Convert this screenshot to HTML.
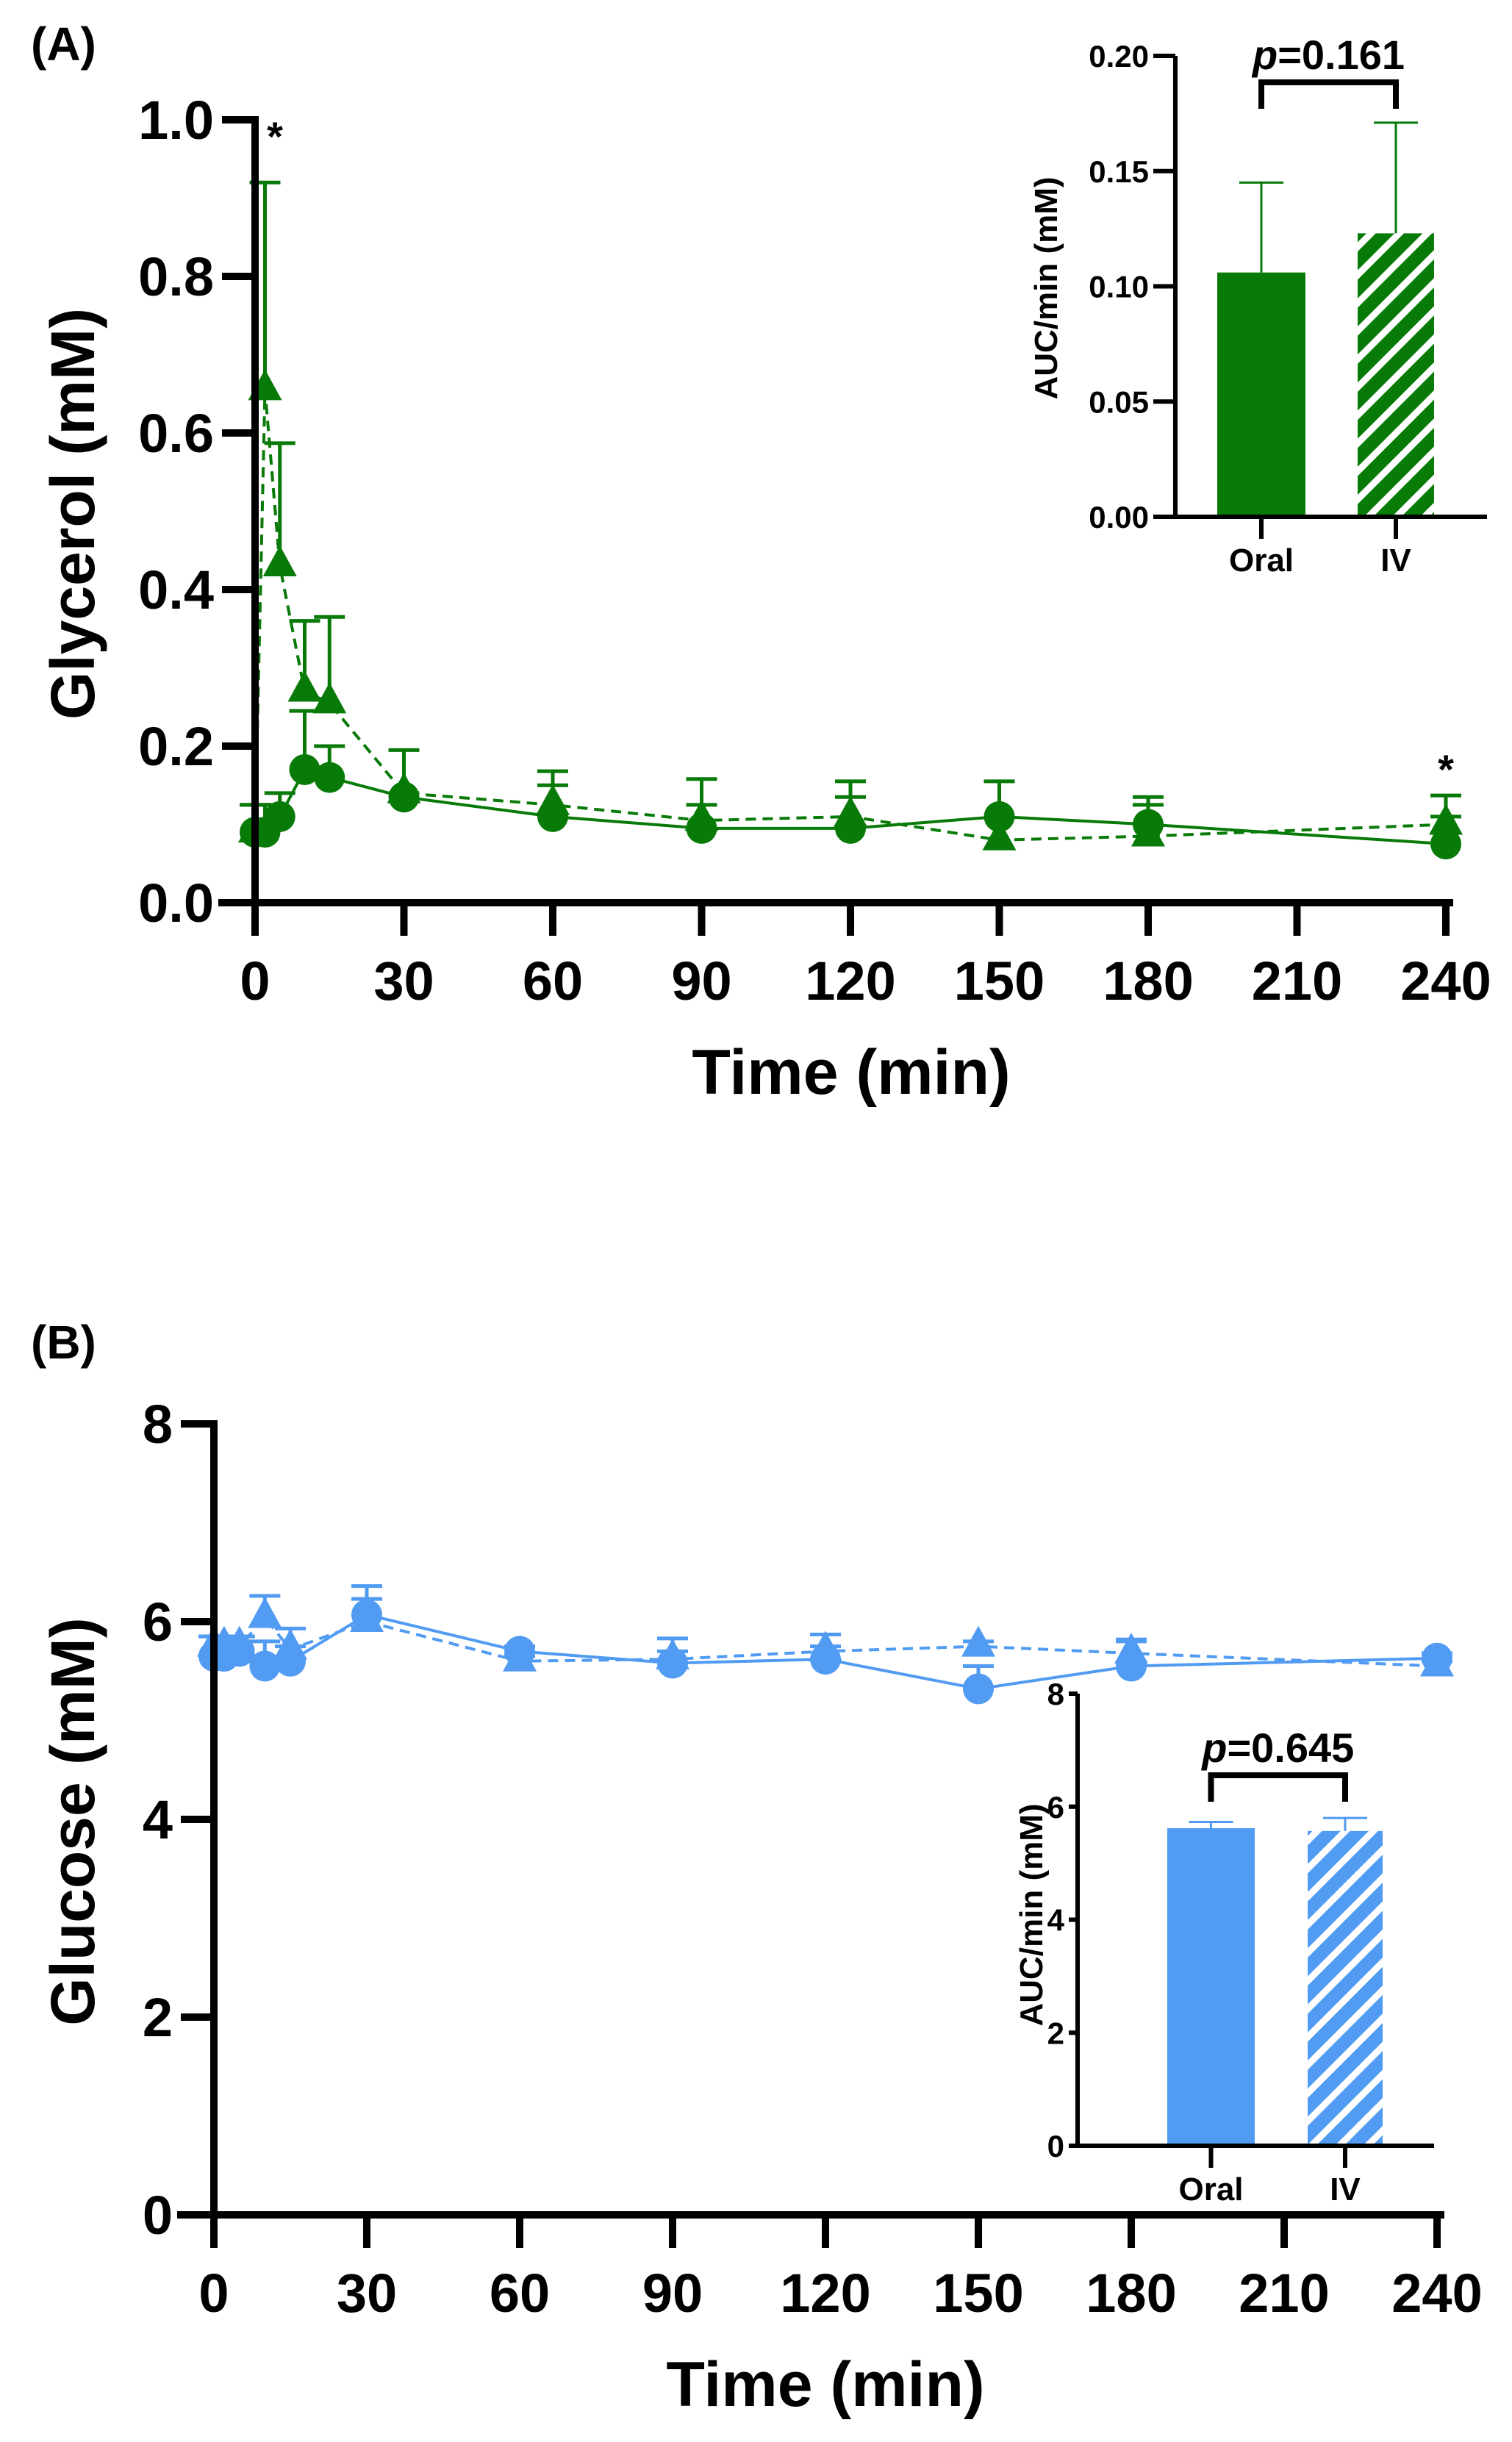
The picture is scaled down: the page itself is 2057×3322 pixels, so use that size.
<!DOCTYPE html>
<html><head><meta charset="utf-8"><style>
html,body{margin:0;padding:0;background:#fff;}
svg{display:block;font-family:"Liberation Sans",Arial,sans-serif;font-weight:bold;}
</style></head><body>
<svg id="fig" width="2057" height="3322" viewBox="0 0 2057 3322" xmlns="http://www.w3.org/2000/svg">
<defs>
<pattern id="hatchG" patternUnits="userSpaceOnUse" width="27" height="27" patternTransform="rotate(45)">
<rect width="27" height="27" fill="#087a08"/><rect width="9" height="27" fill="#fff"/></pattern>
<pattern id="hatchB" patternUnits="userSpaceOnUse" width="27" height="27" patternTransform="rotate(45)">
<rect width="27" height="27" fill="#519bf2"/><rect width="9" height="27" fill="#fff"/></pattern>
</defs>
<g id="root"></g>
</svg>
<script>
// ---------- data ----------
const times = [0,2,5,10,15,30,60,90,120,150,180,240];
const xTicks = [0,30,60,90,120,150,180,210,240];
const glyOral = [0.09,0.09,0.11,0.17,0.16,0.135,0.11,0.095,0.095,0.11,0.10,0.075];
const glyOralErr = [0.125,0.125,0.14,0.245,0.20,0.14,0.15,0.125,0.135,0.155,0.125,0.11];
const glyIV = [0.09,0.655,0.43,0.27,0.255,0.14,0.125,0.105,0.11,0.08,0.085,0.10];
const glyIVErr = [0.125,0.92,0.587,0.36,0.365,0.195,0.168,0.158,0.155,0.08,0.135,0.137];
const glyTicks = ["0.0","0.2","0.4","0.6","0.8","1.0"];
const gluOral = [5.65,5.65,5.7,5.55,5.6,6.07,5.7,5.58,5.62,5.32,5.55,5.63];
const gluOralErr = [5.85,5.8,5.85,5.8,5.75,6.36,5.75,5.83,5.87,5.55,5.82,5.68];
const gluIV = [5.75,5.75,5.75,6.04,5.72,6.0,5.6,5.62,5.7,5.75,5.68,5.55];
const gluIVErr = [5.85,5.85,5.85,6.26,5.93,6.23,5.65,5.7,5.75,5.8,5.8,5.6];
const gluTicks = ["0","2","4","6","8"];
const barCats = ["Oral","IV"];
const glyAuc = [0.106,0.123];
const glyAucErr = [0.145,0.171];
const glyAucTicks = ["0.00","0.05","0.10","0.15","0.20"];
const gluAuc = [5.62,5.57];
const gluAucErr = [5.73,5.80];
const gluAucTicks = ["0","2","4","6","8"];

const NS="http://www.w3.org/2000/svg";
const root=document.getElementById('root');
function el(tag,attrs,parent,text){const e=document.createElementNS(NS,tag);for(const k in attrs)e.setAttribute(k,attrs[k]);if(text!==undefined)e.textContent=text;(parent||root).appendChild(e);return e;}

function linePanel(o){
  const g=el('g',{});
  
  
  const X=t=>o.x0+(o.x1-o.x0)*t/240;
  const Y=v=>o.y0-(o.y0-o.y1)*v/o.vmax;
  const ptsO=times.map((t,i)=>X(t)+','+Y(o.oral[i])).join(' ');
  const ptsI=times.map((t,i)=>X(t)+','+Y(o.iv[i])).join(' ');
  const lI=el('polyline',{points:ptsI,fill:'none',stroke:o.color,'stroke-width':4,'stroke-dasharray':'14,9'},g);
  
  
  const lO=el('polyline',{points:ptsO,fill:'none',stroke:o.color,'stroke-width':4},g);
  
  
  times.forEach((t,i)=>{
    [[o.oral[i],o.oralErr[i]],[o.iv[i],o.ivErr[i]]].forEach(([v,e])=>{
      if(e<=v) return;
      const eb=el('path',{d:`M${X(t)},${Y(v)}V${Y(e)}M${X(t)-21},${Y(e)}H${X(t)+21}`,stroke:o.color,'stroke-width':5,fill:'none'},g);
      
      
    });
  });
  times.forEach((t,i)=>{
    const c=el('circle',{cx:X(t),cy:Y(o.oral[i]),r:21,fill:o.color},g);
    
    
    const x=X(t),y=Y(o.iv[i]);
    const tr=el('polygon',{points:`${x},${y-28} ${x-23},${y+14} ${x+23},${y+14}`,fill:o.color},g);
    
    
  });
  const ax=el('path',{d:`M${o.x0},${o.y1}V${o.y0}M${o.x0-45},${o.y0}H${o.x1+5}`,stroke:'#000','stroke-width':10,fill:'none','stroke-linecap':'square'},g);
  
  
  o.yTicks.forEach((lab,i)=>{
    const v=o.vmax*i/(o.yTicks.length-1), y=Y(v);
    el('line',{x1:o.x0-45,x2:o.x0,y1:y,y2:y,stroke:'#000','stroke-width':10},g);
    const t=el('text',{x:o.x0-56,y:y+26,'text-anchor':'end','font-size':74},g,lab);
    
    
  });
  xTicks.forEach(tv=>{
    const x=X(tv);
    el('line',{x1:x,x2:x,y1:o.y0,y2:o.y0+45,stroke:'#000','stroke-width':10},g);
    const t=el('text',{x:x,y:o.y0+132,'text-anchor':'middle','font-size':74},g,String(tv));
    
    
  });
  const xt=el('text',{x:o.xtx,y:o.y0+260,'text-anchor':'middle','font-size':86},g,'Time (min)');
  
  
  const yt=el('text',{x:0,y:0,'text-anchor':'middle','font-size':84,transform:`translate(128,${o.ytY}) rotate(-90)`},g,o.ytitle);
  
  
  const pl=el('text',{x:42,y:o.labY,'font-size':64},g,o.label);
  
  
  return {X,Y,g};
}

function inset(o){
  const g=el('g',{});
  
  
  const Y=v=>o.y0-(o.y0-o.y1)*v/o.vmax;
  const fills=[o.color,o.hatch];
  barCats.forEach((c,i)=>{
    const [bx0,bx1]=o.bars[i];
    const cx=(bx0+bx1)/2;
    const e=el('path',{d:`M${cx},${Y(o.vals[i])}V${Y(o.errs[i])}M${cx-30},${Y(o.errs[i])}H${cx+30}`,stroke:o.color,'stroke-width':3,fill:'none'},g);
    
    
    const r=el('rect',{x:bx0,y:Y(o.vals[i]),width:bx1-bx0,height:o.y0-Y(o.vals[i]),fill:fills[i]},g);
    
    
    el('line',{x1:cx,x2:cx,y1:o.y0,y2:o.y0+30,stroke:'#000','stroke-width':6},g);
    const t=el('text',{x:cx,y:o.y0+74,'text-anchor':'middle','font-size':44},g,c);
    
    
  });
  const ax=el('path',{d:`M${o.x0},${o.y1}V${o.y0}H${o.x1}`,stroke:'#000','stroke-width':6,fill:'none'},g);
  
  
  o.ticks.forEach((lab,i)=>{
    const y=Y(o.vmax*i/(o.ticks.length-1));
    el('line',{x1:o.x0-o.tl,x2:o.x0,y1:y,y2:y,stroke:'#000','stroke-width':6},g);
    const t=el('text',{x:o.x0-o.tl-6,y:y+15,'text-anchor':'end','font-size':42},g,lab);
    
    
  });
  const yt=el('text',{x:0,y:0,'text-anchor':'middle','font-size':44,transform:`translate(${o.ytX},${o.ytY}) rotate(-90)`},g,'AUC/min (mM)');
  
  
  const c0=(o.bars[0][0]+o.bars[0][1])/2, c1=(o.bars[1][0]+o.bars[1][1])/2;
  const br=el('path',{d:`M${c0},${o.brY+36}V${o.brY}H${c1}V${o.brY+36}`,stroke:'#000','stroke-width':8,fill:'none'},g);
  
  
  const p=el('text',{x:(c0+c1)/2,y:o.brY-18,'text-anchor':'middle','font-size':56},g);
  
  
  el('tspan',{'font-style':'italic'},p,'p');
  el('tspan',{},p,o.p);
}

const A=linePanel({name:'glycerol-chart',x0:347,x1:1967,y0:1228,y1:163,vmax:1.0,color:'#087a08',
  oral:glyOral,oralErr:glyOralErr,iv:glyIV,ivErr:glyIVErr,yTicks:glyTicks,ytitle:'Glycerol (mM)',ytY:699,xtx:1158,label:'(A)',labY:82});
const s1=el('text',{x:A.X(4),y:A.Y(1.0)+42,'text-anchor':'middle','font-size':56},A.g,'*');


const s2=el('text',{x:A.X(240),y:A.Y(0.137)-16,'text-anchor':'middle','font-size':56},A.g,'*');



linePanel({name:'glucose-chart',x0:291,x1:1955,y0:3013,y1:1937,vmax:8,color:'#519bf2',
  oral:gluOral,oralErr:gluOralErr,iv:gluIV,ivErr:gluIVErr,yTicks:gluTicks,ytitle:'Glucose (mM)',ytY:2478,xtx:1123,label:'(B)',labY:1848});

inset({name:'glycerol-auc-inset',x0:1599,x1:2023,y0:703,y1:76,vmax:0.2,color:'#087a08',hatch:'url(#hatchG)',tl:30,
  bars:[[1656,1776],[1847,1951]],vals:glyAuc,errs:glyAucErr,ticks:glyAucTicks,ytX:1438,ytY:392,brY:112,p:'=0.161'});
inset({name:'glucose-auc-inset',x0:1466,x1:1951,y0:2919,y1:2304,vmax:8,color:'#519bf2',hatch:'url(#hatchB)',tl:12,
  bars:[[1588,1707],[1779,1881]],vals:gluAuc,errs:gluAucErr,ticks:gluAucTicks,ytX:1418,ytY:2605,brY:2415,p:'=0.645'});
</script>
</body></html>
